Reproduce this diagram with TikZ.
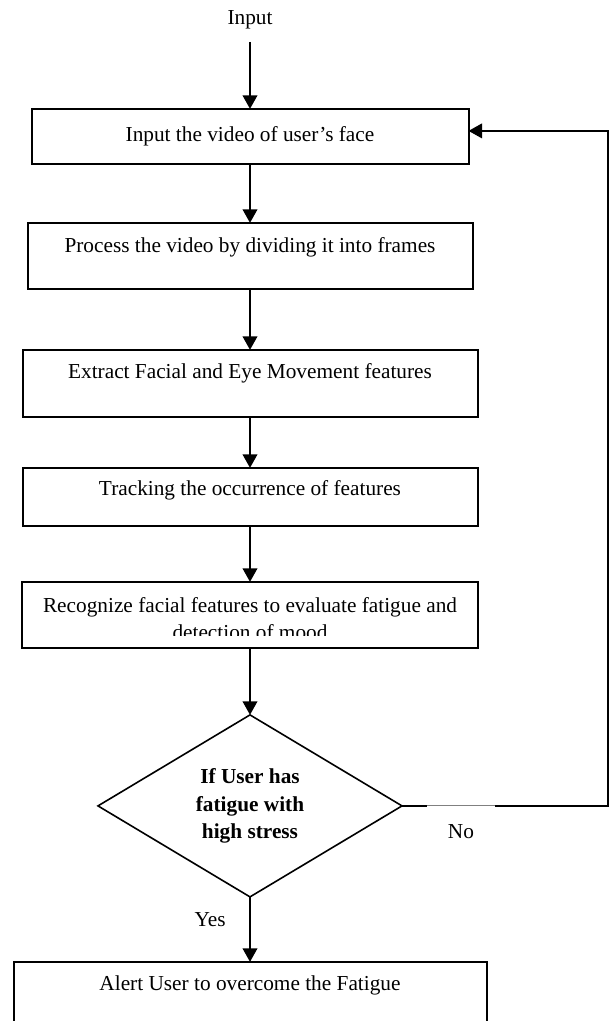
\documentclass[tikz,border=0pt]{standalone}
\usepackage{fontspec}
\setmainfont{Liberation Serif}
\usetikzlibrary{shapes.geometric, arrows.meta, positioning}

\begin{document}
\begin{tikzpicture}[
    node distance=60pt,
    box/.style={rectangle, draw, line width=2pt, outer sep=0pt, align=center,
                font=\fontsize{21.3}{27}\selectfont},
    lift/.style={text height=14.5pt, text depth=#1},
    decision/.style={diamond, draw, line width=1.6pt, outer sep=0pt, aspect=1.67,
                inner sep=1pt, minimum width=304pt, minimum height=182pt,
                align=center, font=\bfseries\fontsize{21.3}{27.5}\selectfont},
    lbl/.style={text=black, font=\fontsize{21.3}{27}\selectfont},
    arr/.style={-{Triangle[length=13.5pt, width=14.5pt]}, line width=2pt}
  ]

  \clip (0,0) rectangle (613pt,-1021pt);

  \node[lbl, inner ysep=12.65pt, outer sep=0pt] (inp) at (250pt,-20pt) {Input};
  \node[box, minimum width=437pt, minimum height=55pt, below=67pt of inp] (video) {Input the video of user’s face};
  \node[box, minimum width=445pt, minimum height=66pt, lift=21.2pt, below=59pt of video] (frames) {Process the video by dividing it into frames};
  \node[box, minimum width=455pt, minimum height=67pt, lift=23.6pt, below=61pt of frames] (extract) {Extract Facial and Eye Movement features};
  \node[box, minimum width=455pt, minimum height=58pt, lift=16.6pt, below=51pt of extract] (track) {Tracking the occurrence of features};
  \node[box, minimum width=456pt, minimum height=66pt, below=56pt of track] (recog) {};
  \begin{scope}
    \clip ([yshift=12pt]recog.south west) rectangle (recog.north east);
    \node[lbl, align=center, anchor=north, inner sep=0pt] (recogtext) at ([yshift=-15.4pt]recog.north) {Recognize facial features to evaluate fatigue and\\detection of mood};
  \end{scope}
  \node[decision, below=67pt of recog] (check) {If User has\\fatigue with\\high stress};
  \node[box, minimum width=473pt, minimum height=80pt, lift=36.6pt, below=65pt of check] (alert) {Alert User to overcome the Fatigue};

  \draw[arr] (inp) -- (video);
  \draw[arr] (video) -- (frames);
  \draw[arr] (frames) -- (extract);
  \draw[arr] (extract) -- (track);
  \draw[arr] (track) -- (recog);
  \draw[arr] (recog) -- (check);
  \draw[arr] (check) -- node[lbl, pos=0.354, left=20pt] (yes) {Yes} (alert);

  \coordinate (gapa) at ([xshift=25pt]check.east);
  \coordinate (gapb) at ([xshift=93pt]check.east);
  \coordinate (back) at ([xshift=139pt, yshift=5.5pt]video.east);
  \draw[line width=2pt] (check.east) -- (gapa);
  \draw[gray, line width=1pt] (gapa) -- node[lbl, below=15pt] (no) {No} (gapb);
  \draw[arr] (gapb) -| (back) -- ([yshift=5.5pt]video.east);

\end{tikzpicture}
\end{document}
